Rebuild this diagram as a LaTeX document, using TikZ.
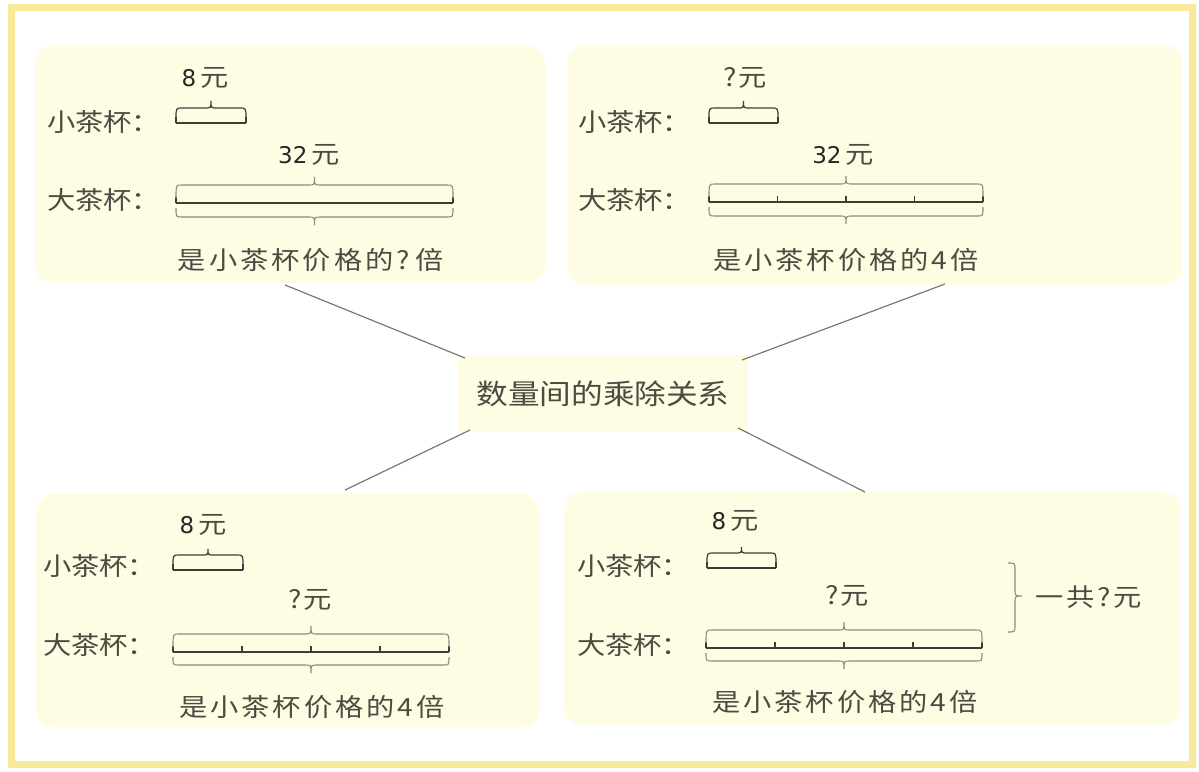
\documentclass[tikz,border=0pt]{standalone}
\usepackage{fontspec}
\setmainfont{Noto Sans CJK SC}
\newfontfamily\cjk[FakeStretch=1.13]{Noto Sans CJK SC}
\newfontfamily\cjkw[FakeStretch=1.13,LetterSpace=12]{Noto Sans CJK SC}
\newfontfamily\numf{DejaVu Sans}
\definecolor{txt}{HTML}{4B4B42}
\definecolor{panelfill}{HTML}{FEFDE3}
\definecolor{frameY}{HTML}{F8EA9A}
\definecolor{linegray}{HTML}{7A7A72}
\definecolor{bargray}{HTML}{3C3C38}
\definecolor{bracegray}{HTML}{8A8A82}
\tikzset{
 panel/.style={fill=panelfill, rounded corners=18pt, inner sep=0},
 hub/.style={fill=panelfill, inner sep=0, minimum width=290, minimum height=77, font=\cjk\fontsize{28}{28}\selectfont, text=txt},
 lbl/.style={anchor=west, inner sep=0, font=\cjk\fontsize{25}{25}\selectfont, text=txt},
 captxt/.style={inner sep=0, font=\cjkw\fontsize{25}{25}\selectfont, text=txt},
 num/.style={inner sep=0, font=\numf\fontsize{23}{23}\selectfont, text=black!85},
 link/.style={draw=linegray, line width=1.2},
 barline/.style={draw=bargray, line width=1.5},
 brc/.style={draw=bracegray, line width=1.1},
 sbrc/.style={draw=bargray, line width=1.2},
}
\newcommand\hbrace[6]{%
 \draw[#1] (#2,#4) .. controls (#2,#5) .. ({#2+6},#5) -- ({(#2+#3)/2-6},#5)
  .. controls ({(#2+#3)/2},#5) .. ({(#2+#3)/2},#6)
  .. controls ({(#2+#3)/2},#5) .. ({(#2+#3)/2+6},#5) -- ({#3-6},#5)
  .. controls (#3,#5) .. (#3,#4);
}
\newcommand\drawbar[4]{%
 \draw[barline] (#1,#3) -- (#2,#3);
 \foreach \k in {0,...,#4} \draw[barline,line width=1.1] ({#1+(#2-#1)*\k/#4},#3) -- ++(0,-6);
}
\newcommand\yuan{{\cjk\fontsize{25}{25}\selectfont\color{txt}元}}
\begin{document}
\begin{tikzpicture}[x=1pt,y=-1pt]
\fill[white] (0,0) rectangle (1199,771);
\useasboundingbox (0,0) rectangle (1199,771);
\draw[frameY, line width=7] (11.5,7) rectangle (1192,764);
% panels
\node[panel, minimum width=510, minimum height=238] (tlp) at (290,164) {};
\node[panel, minimum width=614, minimum height=240] (trp) at (875,165) {};
\node[panel, minimum width=504, minimum height=233] (blp) at (288,610.5) {};
\node[panel, minimum width=616, minimum height=233] (brp) at (872,608.5) {};
% hub
\node[hub] (hub) at (603,393.5) {数量间的乘除关系};
% links
\coordinate (aTL) at (285,285); \coordinate (bTL) at (465,358);
\coordinate (aTR) at (945,284); \coordinate (bTR) at (742,360);
\coordinate (aBL) at (345,490); \coordinate (bBL) at (470,430);
\coordinate (aBR) at (865,492); \coordinate (bBR) at (738,428);
\draw[link] (aTL) -- (bTL);
\draw[link] (aTR) -- (bTR);
\draw[link] (aBL) -- (bBL);
\draw[link] (aBR) -- (bBR);
% ---------- TL
\node[num] (tlA) at (205,78) {8\hspace{4pt}\yuan};
\node[lbl] (tlS) at (47,122) {小茶杯：};
\drawbar{176}{246}{123}{1}
\hbrace{sbrc}{176}{246}{119}{108}{101}
\node[num] (tlB) at (309,155) {32\hspace{4pt}\yuan};
\node[lbl] (tlL) at (47,200) {大茶杯：};
\drawbar{176}{453}{203}{1}
\hbrace{brc}{176}{453}{198}{185}{177}
\hbrace{brc}{176}{453}{208}{217}{225}
\node[captxt] (tlC) at (311,260) {是小茶杯价格的?\hspace{6pt}倍};
% ---------- TR
\node[captxt] (trA) at (745,78) {?\hspace{2pt}元};
\node[lbl] (trS) at (578,122) {小茶杯：};
\drawbar{709}{778}{123}{1}
\hbrace{sbrc}{709}{778}{119}{108}{101}
\node[num] (trB) at (843,155) {32\hspace{4pt}\yuan};
\node[lbl] (trL) at (578,200) {大茶杯：};
\drawbar{709}{983}{202}{4}
\hbrace{brc}{709}{983}{197}{184}{176}
\hbrace{brc}{709}{983}{207}{216}{224}
\node[captxt] (trC) at (846,260) {是小茶杯价格的4倍};
% ---------- BL
\node[num] (blA) at (203,525) {8\hspace{4pt}\yuan};
\node[lbl] (blS) at (43,566) {小茶杯：};
\drawbar{173}{243}{570}{1}
\hbrace{sbrc}{173}{243}{566}{555}{549}
\node[captxt] (blB) at (310,600) {?\hspace{2pt}元};
\node[lbl] (blL) at (43,645) {大茶杯：};
\drawbar{173}{449}{652}{4}
\hbrace{brc}{173}{449}{647}{634}{626}
\hbrace{brc}{173}{449}{657}{665}{673}
\node[captxt] (blC) at (312,707) {是小茶杯价格的4倍};
% ---------- BR
\node[num] (brA) at (735,521) {8\hspace{4pt}\yuan};
\node[lbl] (brS) at (577,566) {小茶杯：};
\drawbar{707}{776}{568}{1}
\hbrace{sbrc}{707}{776}{564}{553}{547}
\node[captxt] (brB) at (847,596) {?\hspace{2pt}元};
\node[lbl] (brL) at (577,645) {大茶杯：};
\drawbar{706}{982}{648}{4}
\hbrace{brc}{706}{982}{643}{630}{622}
\hbrace{brc}{706}{982}{653}{661}{669}
\node[captxt] (brC) at (845,702) {是小茶杯价格的4倍};
\draw[brc] (1008,563) .. controls (1015,563) .. (1015,570) -- (1015,589)
  .. controls (1015,596) .. (1022,596) .. controls (1015,596) .. (1015,603)
  -- (1015,625) .. controls (1015,632) .. (1008,632);
\node[captxt, anchor=west] (brT) at (1035,597) {一共?\hspace{2pt}元};
\end{tikzpicture}
\end{document}
